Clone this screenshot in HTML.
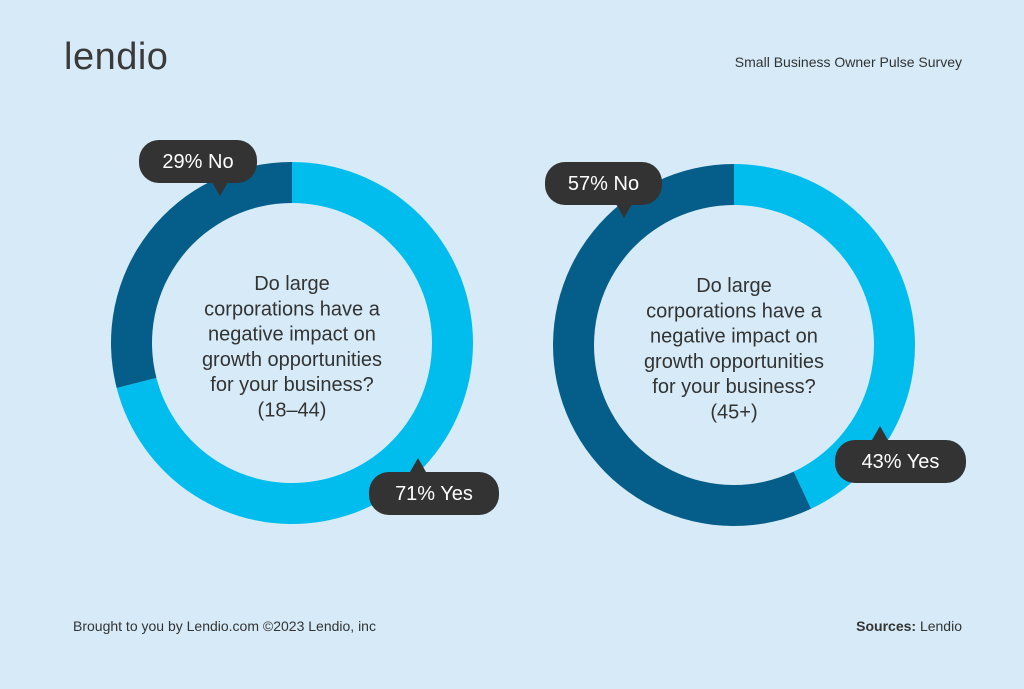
<!DOCTYPE html>
<html><head><meta charset="utf-8"><style>
body{margin:0;width:1024px;height:689px;background:#d6ebf7;font-family:"Liberation Sans",sans-serif;overflow:hidden;position:relative}
.t{position:absolute;color:#333}
</style></head><body>
<div class="t" style="left:64px;top:36px;font-size:38px;color:#3a3a3a;letter-spacing:0.5px">lendio</div>
<div class="t" style="right:62px;top:54px;font-size:14px">Small Business Owner Pulse Survey</div>
<div class="t" style="left:73px;top:618px;font-size:14px">Brought to you by Lendio.com ©2023 Lendio, inc</div>
<div class="t" style="right:62px;top:618px;font-size:14px"><b>Sources:</b> Lendio</div>
<svg id="c" width="1024" height="689" style="position:absolute;left:0;top:0"></svg>
<script>
const groups=["18–44","45+"];
const yesValues=[71,43];
const noValues=[29,57];
const ns="http://www.w3.org/2000/svg";
const svg=document.getElementById('c');
const centers=[[292,343],[734,345]];
const R=181,r=140;
function pt(cx,cy,rad,p){const a=p/100*2*Math.PI;return [cx+rad*Math.sin(a),cy-rad*Math.cos(a)];}
function arc(cx,cy,p0,p1){const l=(p1-p0)>50?1:0;const a=pt(cx,cy,R,p0),b=pt(cx,cy,R,p1),c=pt(cx,cy,r,p1),d=pt(cx,cy,r,p0);
return `M${a[0]},${a[1]}A${R},${R} 0 ${l} 1 ${b[0]},${b[1]}L${c[0]},${c[1]}A${r},${r} 0 ${l} 0 ${d[0]},${d[1]}Z`;}
function mk(tag,attrs){const e=document.createElementNS(ns,tag);for(const k in attrs)e.setAttribute(k,attrs[k]);svg.appendChild(e);return e;}
function callout(x,y,w,label,tailX,up){
const g=mk('path',{d:up?`M${tailX-8},${y}L${tailX},${y-14}L${tailX+8},${y}Z`:`M${tailX-8},${y+42}L${tailX},${y+56}L${tailX+8},${y+42}Z`,fill:'#333'});


const b=mk('rect',{x:x,y:y,width:w,height:43,rx:20,fill:'#333'});


const t=mk('text',{x:x+w/2,y:y+28,'text-anchor':'middle','font-size':20,fill:'#fff','font-family':'Liberation Sans, sans-serif'});
t.textContent=label;


}
const q=["Do large","corporations have a","negative impact on","growth opportunities","for your business?"];
groups.forEach((g,i)=>{
const [cx,cy]=centers[i];
const y=mk('path',{d:arc(cx,cy,0,yesValues[i]),fill:'#00bdee'});


const n=mk('path',{d:arc(cx,cy,yesValues[i],yesValues[i]+noValues[i]),fill:'#055e89'});


q.concat(['('+g+')']).forEach((s,j)=>{
const t=mk('text',{x:cx,y:cy-53+j*25.3,'text-anchor':'middle','font-size':20,fill:'#333','font-family':'Liberation Sans, sans-serif'});
t.textContent=s;


});
});
callout(139,140,118,noValues[0]+'% No',220,false);
callout(369,472,130,yesValues[0]+'% Yes',418,true);
callout(545,162,117,noValues[1]+'% No',624,false);
callout(835,440,131,yesValues[1]+'% Yes',880,true);
</script>
</body></html>
